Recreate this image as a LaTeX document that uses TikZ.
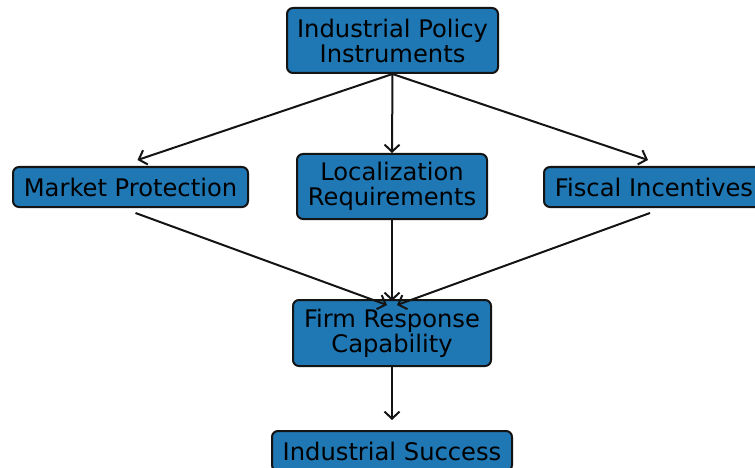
\documentclass[tikz,border=0pt]{standalone}
\usepackage{fontspec}
\setmainfont{DejaVu Sans}
\usetikzlibrary{arrows.meta}
\definecolor{boxblue}{RGB}{31,119,180}
\definecolor{ink}{RGB}{20,20,20}
\tikzset{
  box/.style={draw=ink, fill=boxblue, line width=2pt, rounded corners=6pt,
    align=center, inner sep=0pt, text=black,
    font=\fontsize{24.2}{25}\selectfont},
  link/.style={draw=ink, line width=2pt,
    -{Straight Barb[length=7pt,width=15pt,line width=2pt]}}
}
\begin{document}
\begin{tikzpicture}[x=1pt,y=-1pt]
\useasboundingbox (0,0) rectangle (755,468);
\clip (0,0) rectangle (755,468);
\fill[white] (0,0) rectangle (755,468);

\node[box, minimum width=211pt, minimum height=65pt] (top) at (392.5,40.5)
  {Industrial Policy\\Instruments};
\node[box, minimum width=235pt, minimum height=40pt] (mp) at (130.5,187)
  {Market Protection};
\node[box, minimum width=190pt, minimum height=65pt] (loc) at (392,186.5)
  {Localization\\Requirements};
\node[box, minimum width=220pt, minimum height=40pt] (fi) at (654,187)
  {Fiscal Incentives};
\node[box, minimum width=198pt, minimum height=66pt] (firm) at (392,333)
  {Firm Response\\Capability};
\node[box, minimum width=240pt, minimum height=40pt] (succ) at (392,451)
  {Industrial Success};

% policy instruments fan out to the three levers
\draw[link] (top.south) -- ([xshift=7pt,yshift=6pt]mp.north);
\draw[link] (top.south) -- (loc.north);
\draw[link] (top.south) -- ([xshift=-6pt,yshift=6pt]fi.north);

% the levers converge on firm capability
\draw[link] ([xshift=5pt,yshift=-5pt]mp.south) -- ([xshift=-5pt,yshift=-6pt]firm.north);
\draw[link] (loc.south) -- ([yshift=-2pt]firm.north);
\draw[link] ([xshift=-4pt,yshift=-5pt]fi.south) -- ([xshift=5pt,yshift=-6pt]firm.north);

% capability leads to success
\draw[link] (firm.south) -- ([yshift=10pt]succ.north);
\end{tikzpicture}
\end{document}
